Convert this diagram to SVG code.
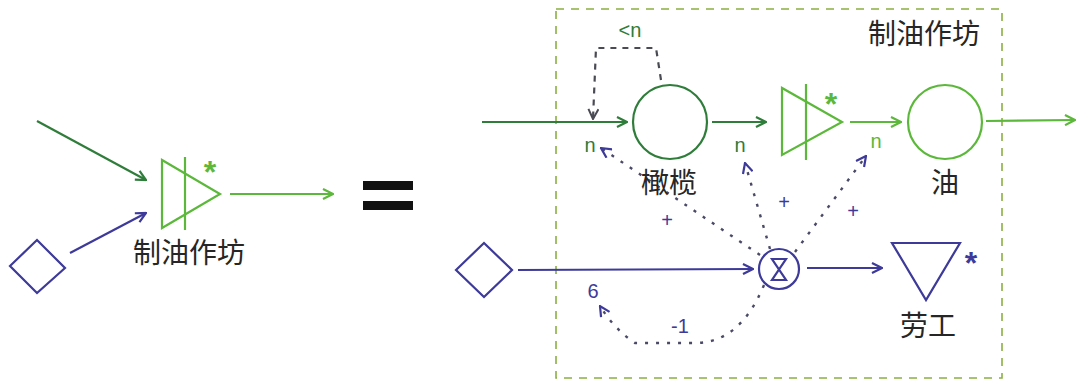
<svg xmlns="http://www.w3.org/2000/svg" width="1078" height="381" viewBox="0 0 1078 381">
<style>
.dg{stroke:#2f7d3a;stroke-width:2.2;fill:none}
.lg{stroke:#5cb83a;stroke-width:2.2;fill:none}
.bl{stroke:#3d3a9a;stroke-width:2.2;fill:none}
.dot{stroke:#4a4a68;stroke-width:2.4;fill:none;stroke-dasharray:3 8}
.dash{stroke:#4a4a55;stroke-width:2.2;fill:none;stroke-dasharray:6 6}
.lbl{font-family:"Noto Sans CJK SC","Noto Sans CJK JP",sans-serif;font-size:28px;fill:#262626;text-anchor:middle}
.sm{font-family:"Liberation Sans",Arial,sans-serif;font-size:20px;text-anchor:middle}
.star{font-family:"Liberation Sans",Arial,sans-serif;font-size:32px;font-weight:bold;text-anchor:middle}
</style>
<defs>
<marker id="aDG" viewBox="0 0 12 12" refX="11" refY="6" markerWidth="12" markerHeight="12" markerUnits="userSpaceOnUse" orient="auto"><path d="M1,1 L11,6 L1,11" fill="none" stroke="#2f7d3a" stroke-width="2.2"/></marker>
<marker id="aLG" viewBox="0 0 12 12" refX="11" refY="6" markerWidth="12" markerHeight="12" markerUnits="userSpaceOnUse" orient="auto"><path d="M1,1 L11,6 L1,11" fill="none" stroke="#5cb83a" stroke-width="2.2"/></marker>
<marker id="aBL" viewBox="0 0 12 12" refX="11" refY="6" markerWidth="12" markerHeight="12" markerUnits="userSpaceOnUse" orient="auto"><path d="M1,1 L11,6 L1,11" fill="none" stroke="#3d3a9a" stroke-width="2.2"/></marker>
<marker id="aDK" viewBox="0 0 12 12" refX="11" refY="6" markerWidth="12" markerHeight="12" markerUnits="userSpaceOnUse" orient="auto"><path d="M1,1 L11,6 L1,11" fill="none" stroke="#4a4a55" stroke-width="2"/></marker>
</defs>
<rect width="1078" height="381" fill="#fff"/>

<g id="boundary">
<rect x="556" y="9" width="446" height="369" fill="none" stroke="#8ab040" stroke-width="1.6" stroke-dasharray="8 7"/>
<text class="lbl" x="924" y="44">制油作坊</text>
</g>

<g id="connectors">
<line class="dg" x1="37" y1="121" x2="146" y2="180" marker-end="url(#aDG)"/>
<line class="bl" x1="70" y1="253" x2="146" y2="213" marker-end="url(#aBL)"/>
<line class="lg" x1="230" y1="194" x2="333" y2="194" marker-end="url(#aLG)"/>
<line class="dg" x1="482" y1="122" x2="627" y2="122" marker-end="url(#aDG)"/>
<line class="dg" x1="712" y1="122" x2="766" y2="122" marker-end="url(#aDG)"/>
<line class="lg" x1="850" y1="122" x2="901" y2="122" marker-end="url(#aLG)"/>
<line class="lg" x1="986" y1="121" x2="1075" y2="120" marker-end="url(#aLG)"/>
<line class="bl" x1="518" y1="270" x2="753" y2="269" marker-end="url(#aBL)"/>
<line class="bl" x1="807" y1="268" x2="882" y2="268" marker-end="url(#aBL)"/>
<path class="dash" d="M661,80 L656,48 L596,48 L593,119" marker-end="url(#aDK)"/>
<line class="dot" x1="760" y1="255" x2="601" y2="148" marker-end="url(#aBL)"/>
<line class="dot" x1="770" y1="249" x2="745" y2="163" marker-end="url(#aBL)"/>
<line class="dot" x1="795" y1="252" x2="866" y2="156" marker-end="url(#aBL)"/>
<path class="dot" d="M764,285 Q740,343 695,343 L635,343 Q615,330 600,306" marker-end="url(#aBL)"/>
</g>

<g id="labels">
<text class="sm" x="590" y="152" fill="#2f7d3a">n</text>
<text class="sm" x="740" y="152" fill="#2f7d3a">n</text>
<text class="sm" x="876" y="148" fill="#5cb83a">n</text>
<text class="sm" x="630" y="37" fill="#2f7d3a">&lt;n</text>
<text class="sm" x="667" y="227" fill="#3d3a9a">+</text>
<text class="sm" x="784" y="209" fill="#3d3a9a">+</text>
<text class="sm" x="853" y="218" fill="#3d3a9a">+</text>
<text class="sm" x="593" y="298" fill="#3d3a9a">6</text>
<text class="sm" x="680" y="333" fill="#3d3a9a">-1</text>
</g>

<g id="workshop-left">
<path class="lg" d="M162,160 L162,228 L220,194 Z"/>
<line class="lg" x1="185" y1="157" x2="185" y2="230"/>
<text class="star" x="210" y="183" fill="#5cb83a">*</text>
<text class="lbl" x="189" y="263">制油作坊</text>
</g>

<g id="source-left">
<path class="bl" d="M10,266 L37,240 L65,268 L37,293 Z"/>
</g>

<g id="equals">
<rect x="363" y="181" width="50" height="9" fill="#111"/>
<rect x="363" y="201" width="50" height="9" fill="#111"/>
</g>

<g id="olive">
<circle class="dg" cx="670" cy="122" r="37"/>
<text class="lbl" x="669" y="193">橄榄</text>
</g>

<g id="press">
<path class="lg" d="M782,88 L782,155 L842,122 Z"/>
<line class="lg" x1="806" y1="84" x2="806" y2="160"/>
<text class="star" x="831" y="115" fill="#5cb83a">*</text>
</g>

<g id="oil">
<circle class="lg" cx="945" cy="122" r="37"/>
<text class="lbl" x="945" y="193">油</text>
</g>

<g id="source-right">
<path class="bl" d="M456,270 L484,243 L512,270 L484,297 Z"/>
</g>

<g id="timer">
<circle class="bl" cx="779" cy="269" r="20"/>
<path class="bl" d="M772,259 L786,259 L772,280 L786,280 Z" stroke-width="2"/>
</g>

<g id="labor">
<path class="bl" d="M892,243 L960,243 L926,300 Z"/>
<text class="star" x="971" y="274" fill="#3d3a9a">*</text>
<text class="lbl" x="928" y="336">劳工</text>
</g>
</svg>
